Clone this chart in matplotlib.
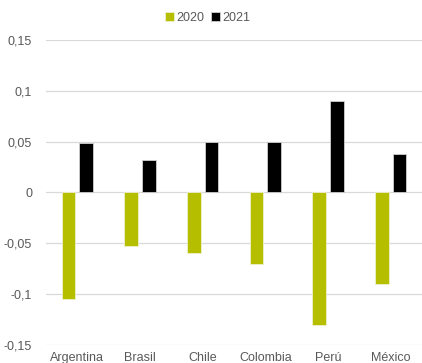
import numpy as np
import matplotlib.pyplot as plt

plt.rcParams['font.family'] = ['Liberation Sans', 'DejaVu Sans']

paises = ['Argentina', 'Brasil', 'Chile', 'Colombia', 'Perú', 'México']
v2020 = [-0.105, -0.053, -0.060, -0.070, -0.130, -0.090]
v2021 = [0.049, 0.032, 0.050, 0.050, 0.090, 0.038]
yticks = [-0.15, -0.1, -0.05, 0, 0.05, 0.1, 0.15]
ylabels = ['-0,15', '-0,1', '-0,05', '0', '0,05', '0,1', '0,15']

fig = plt.figure(figsize=(4.22, 3.63), dpi=100)
ax = fig.add_axes([46 / 422, 0.0496, 1 - 46 / 422, 0.8402])

x = np.arange(len(paises))
w = 0.22
ax.bar(x - 0.14, v2020, w, color='#b5bf00', edgecolor='#eef0cc', linewidth=0.6, label='2020', zorder=3)
ax.bar(x + 0.14, v2021, w, color='#000000', edgecolor='#d0d0d0', linewidth=0.6, label='2021', zorder=3)

ax.set_xlim(-0.5, len(paises) - 0.5)
ax.set_ylim(-0.15, 0.15)
ax.set_yticks(yticks)
ax.set_yticklabels(ylabels)
ax.set_xticks(x)
ax.set_xticklabels(paises)
ax.tick_params(length=0, labelsize=9, colors='#595959')
ax.tick_params(axis='y', pad=10)
ax.tick_params(axis='x', pad=5)
ax.grid(axis='y', color='#d9d9d9', linewidth=0.9, zorder=0)
for s in ax.spines.values():
    s.set_visible(False)

ax.legend(loc='center', bbox_to_anchor=(0.43, 1.072), ncol=2, frameon=False,
          fontsize=9, handlelength=0.7, handleheight=0.7, handletextpad=0.2,
          columnspacing=0.5, labelcolor='#595959')

fig.savefig('out.png', dpi=100)
